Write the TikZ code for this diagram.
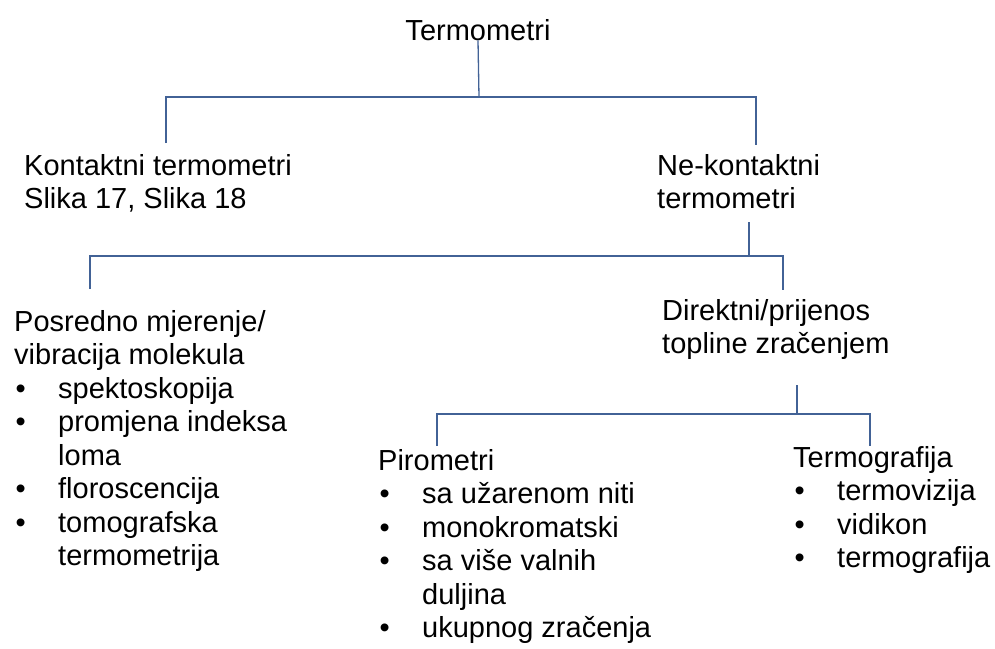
\documentclass[tikz,border=0pt]{standalone}
\usepackage{fontspec}
\setmainfont{Liberation Sans}
\definecolor{linec}{RGB}{66,98,150}
\newcommand\mylines[1]{\begin{tabular}[t]{@{}l@{}}#1\end{tabular}}
\newcommand\myb{\makebox[44pt][l]{\hspace{1.5pt}\textbullet}}
\newcommand\myind{\hspace*{44pt}}
\begin{document}
\begin{tikzpicture}[x=1pt,y=-1pt,
  lbl/.style={inner sep=0pt, anchor=base west, font=\fontsize{29}{33.5}\selectfont},
  conn/.style={draw=linec, line width=1.3pt}]
\useasboundingbox (0,0) rectangle (995,648);

\node[lbl, anchor=base] (top) at (478,40) {Termometri};
\node[lbl] (kont) at (24,175) {\mylines{Kontaktni termometri\\Slika 17, Slika 18}};
\node[lbl] (nekont) at (657,175) {\mylines{Ne-kontaktni\\termometri}};
\node[lbl] (posr) at (14,331) {\mylines{Posredno mjerenje/\\vibracija molekula\\
  \myb spektoskopija\\ \myb promjena indeksa\\ \myind loma\\ \myb floroscencija\\
  \myb tomografska\\ \myind termometrija}};
\node[lbl] (direkt) at (662,320) {\mylines{Direktni/prijenos\\topline zračenjem}};
\node[lbl] (piro) at (378,470) {\mylines{Pirometri\\ \myb sa užarenom niti\\
  \myb monokromatski\\ \myb sa više valnih\\ \myind duljina\\ \myb ukupnog zračenja}};
\node[lbl] (termo) at (793,467) {\mylines{Termografija\\ \myb termovizija\\
  \myb vidikon\\ \myb termografija}};

% level 1
\coordinate (j1) at (479,97);
\coordinate (k1) at (166,143);
\coordinate (n1) at (756,145);
\draw[conn] (top.south) -- (j1);
\draw[conn] (k1) |- (j1) -| (n1);
% level 2
\coordinate (s2) at (749,222);
\coordinate (j2) at (749,256);
\coordinate (p2) at (90,289);
\coordinate (d2) at (783,290);
\draw[conn] (s2) -- (j2);
\draw[conn] (p2) |- (j2) -| (d2);
% level 3
\coordinate (s3) at (797,385);
\coordinate (j3) at (797,414);
\coordinate (p3) at (437,446);
\coordinate (t3) at (870,446);
\draw[conn] (s3) -- (j3);
\draw[conn] (p3) |- (j3) -| (t3);
\end{tikzpicture}
\end{document}
